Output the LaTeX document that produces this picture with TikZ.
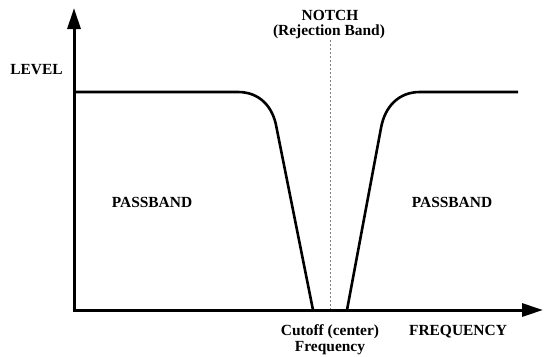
\documentclass[tikz,border=0pt]{standalone}
\usepackage{fontspec}
\setmainfont{Liberation Serif}
\usetikzlibrary{arrows.meta}
\begin{document}
\begin{tikzpicture}[x=1bp,y=-1bp,
  lbl/.style={font=\bfseries\fontsize{15.5}{18}\selectfont, inner sep=0pt, anchor=base, align=center},
  axis/.style={line width=3bp, -{Triangle[length=21bp,width=13bp]}},
  resp/.style={line width=2.6bp, line join=round},
  guide/.style={line width=1bp, gray, dash pattern=on 2bp off 2bp}]
\useasboundingbox (0,0) rectangle (544,356);
\coordinate (o) at (74,310);
\coordinate (ytop) at (74,8);
\coordinate (xend) at (543,310);
\coordinate (gtop) at (330,40);
\coordinate (gbot) at (330,310);
\draw[guide] (gtop) -- (gbot);
\draw[resp] (74,92) -- (238,92) .. controls (259,92) and (273,106) .. (276.6,128) -- (313,310);
\draw[resp] (347,310) -- (381,128) .. controls (385,106) and (399,92) .. (420,92) -- (518,92);
\draw[axis] ([yshift=-1.5bp]o) -- (ytop);
\draw[axis] ([xshift=-1.5bp]o) -- (xend);
\node[lbl] (level) at (36.5,74) {LEVEL};
\node[lbl] (notch) at (330,20) {NOTCH};
\node[lbl] (rej) at (329,35) {(Rejection Band)};
\node[lbl] (pbl) at (152,207) {PASSBAND};
\node[lbl] (pbr) at (452,207) {PASSBAND};
\node[lbl] (cut) at (330,335) {Cutoff (center)};
\node[lbl] (cutf) at (330,351) {Frequency};
\node[lbl] (freq) at (458,335) {FREQUENCY};
\end{tikzpicture}
\end{document}
